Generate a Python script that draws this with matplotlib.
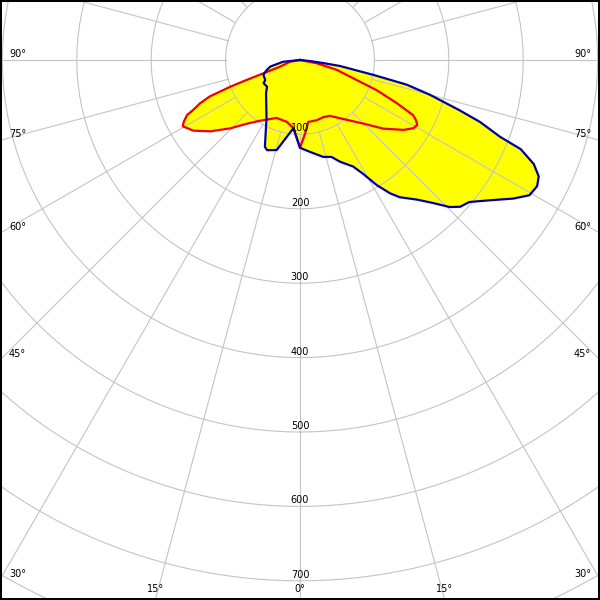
import numpy as np
import matplotlib
matplotlib.use("Agg")
import matplotlib.pyplot as plt
from matplotlib.patches import Rectangle

# ---- data (gamma angle in degrees, luminous intensity in cd) ----
# C0 plane (blue, right side)
c0_gamma = [0, 6, 13.5, 18, 21.5, 26.5, 29, 31.5, 34, 36, 40, 43, 45.5, 47.5, 50,
            53.5, 57, 59.5, 62, 64, 66, 68, 69, 71, 72.5, 75, 77, 78.5, 81.5, 82.5, 84, 90]
c0_cd = [118, 124, 134, 137, 147, 160, 175, 197, 216, 228, 245, 263, 282, 292, 297,
         317, 342, 358, 361, 357, 344, 320, 288, 256, 225, 181, 147, 101, 54, 31, 14, 0]
# C180 plane (blue, left side)
c180_gamma = [0, 5.5, 14.5, 20, 22, 30, 45.5, 51, 57.5, 60, 68, 73, 77.5, 84, 90]
c180_cd = [118, 92, 125, 129, 126, 90, 64, 57, 58, 54, 53, 47, 41, 23, 0]
# C90 plane (red, right side)
c90_gamma = [0, 4, 7.5, 15.5, 22, 28, 38, 45, 50.5, 56, 59, 61, 62.5, 64, 66, 68.5,
             70.5, 75, 79, 90]
c90_cd = [118, 99, 84, 84, 83, 85, 102, 121, 145, 168, 178, 180, 176, 169, 142, 111,
          81, 51, 23, 0]
# C270 plane (red, left side)
c270_gamma = [0, 5.5, 12, 22, 33.5, 40, 45.5, 51.5, 56.5, 60.5, 62, 64, 65, 66.5, 68,
              69, 69.5, 70, 71.5, 80, 90]
c270_cd = [118, 92, 85, 84, 98, 112, 131, 154, 172, 181, 177, 169, 158, 147, 131,
           101, 77, 53, 28, 14, 0]

ring_values = [100, 200, 300, 400, 500, 600, 700, 800]
ring_labels = ["100", "200", "300", "400", "500", "600", "700"]
angle_labels = [0, 15, 30, 45, 60, 75, 90]

# ---- layout ----
W = H = 600
cx, cy = 300.0, 60.0          # pole position in pixels (from top-left)
px_per_cd = 0.744
rmax = 840
rad_px = rmax * px_per_cd

fig = plt.figure(figsize=(6, 6), dpi=100, facecolor="white")
ax = fig.add_axes([(cx - rad_px) / W, ((H - cy) - rad_px) / H,
                   2 * rad_px / W, 2 * rad_px / H], projection="polar")
ax.set_theta_zero_location("S")
ax.set_theta_direction(1)
ax.set_ylim(0, rmax)
ax.set_axis_off()

grid_col = "#c4c4c4"
tt = np.linspace(0, 2 * np.pi, 1441)
for rv in ring_values:
    ax.plot(tt, np.full_like(tt, rv), color=grid_col, lw=0.8, zorder=2)
for a in range(0, 360, 15):
    th = np.deg2rad(a)
    ax.plot([th, th], [ring_values[0], rmax], color=grid_col, lw=0.8, zorder=2)


def closed(right_g, right_r, left_g, left_r):
    th = np.concatenate([-np.deg2rad(left_g)[::-1], np.deg2rad(right_g)[1:]])
    rr = np.concatenate([np.array(left_r)[::-1], np.array(right_r)[1:]])
    return th, rr


tb, rb = closed(c0_gamma, c0_cd, c180_gamma, c180_cd)
tr, rr = closed(c90_gamma, c90_cd, c270_gamma, c270_cd)

ax.fill(tb, rb, color="#ffff00", lw=0, zorder=1)
ax.fill(tr, rr, color="#ffff00", lw=0, zorder=1)
ax.plot(tr, rr, color="#f00000", lw=1.6, zorder=3, solid_joinstyle="round")
ax.plot(tb, rb, color="#0000a8", lw=1.6, zorder=4, solid_joinstyle="round")

fs = 7
for rv, lab in zip(ring_values, ring_labels):
    ax.annotate(lab, xy=(0, rv), xytext=(0, 3), textcoords="offset pixels",
                ha="center", va="baseline", fontsize=fs, color="black", zorder=5)

# angle labels at the picture border
for a in angle_labels:
    s = np.sin(np.deg2rad(a))
    c = np.cos(np.deg2rad(a))
    # exit point on the side border
    if s > 0:
        t_side = cx / s
        y_side = cy + t_side * c
    else:
        y_side = np.inf
    txt = f"{a}°"
    if y_side <= H - 8:
        yb = y_side - 3
        fig.text(9 / W, 1 - yb / H, txt, ha="left", va="baseline", fontsize=fs)
        fig.text((W - 9) / W, 1 - yb / H, txt, ha="right", va="baseline", fontsize=fs)
    else:
        xe = (H - cy) * s / c
        yb = H - 8
        if a == 0:
            fig.text(cx / W, 1 - yb / H, txt, ha="center", va="baseline", fontsize=fs)
        else:
            fig.text((cx - xe) / W, 1 - yb / H, txt, ha="center", va="baseline", fontsize=fs)
            fig.text((cx + xe) / W, 1 - yb / H, txt, ha="center", va="baseline", fontsize=fs)

fig.add_artist(Rectangle((0, 0), 1, 1, transform=fig.transFigure, fill=False,
                         edgecolor="black", linewidth=2.9, zorder=10))

fig.savefig("out.png", dpi=100, facecolor="white")
